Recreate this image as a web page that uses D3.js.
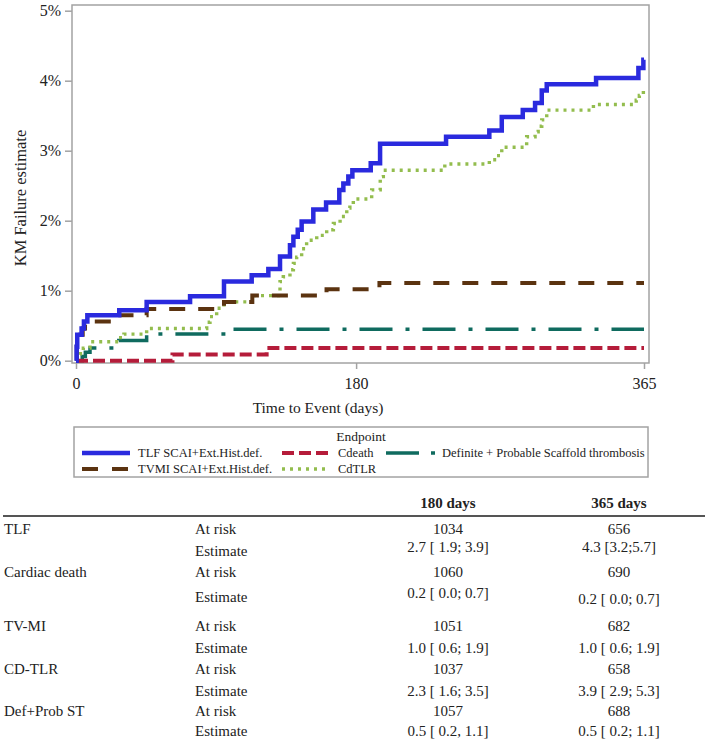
<!DOCTYPE html>
<html>
<head>
<meta charset="utf-8">
<script src="https://cdn.jsdelivr.net/npm/d3@7"></script>
<style>
  body { margin: 0; background: #fff; }
  svg { display: block; font-family: "Liberation Serif", "Times New Roman", serif; }
</style>
</head>
<body>
<div id="km-chart"></div>
<script>
// ---------------------------------------------------------------- Data
var seriesNames = ['TLF SCAI+Ext.Hist.def.', 'TVMI SCAI+Ext.Hist.def.', 'Cdeath', 'CdTLR',
                   'Definite + Probable Scaffold thrombosis'];

// [day, KM failure %]
var tlf = [[0,0],[0.4,0.2],[0.8,0.37],[3.6,0.46],[5.1,0.56],[7.3,0.65],[27.8,0.72],[45.4,0.84],
  [73.3,0.92],[95.1,1.13],[112.9,1.22],[123.6,1.31],[131.1,1.49],[137.5,1.65],[139.7,1.77],
  [142.5,1.87],[145,1.99],[152.5,2.16],[160.7,2.26],[169.2,2.44],[171.8,2.53],[175,2.63],
  [177.6,2.72],[189.4,2.82],[195.4,3.1],[237.8,3.2],[265.6,3.29],[273.6,3.48],[287.1,3.58],
  [295,3.68],[299.3,3.86],[302.5,3.95],[334.2,4.04],[361.4,4.18],[364.6,4.3],[365,4.3]];
var tvmi = [[0,0],[0.5,0.2],[2.6,0.37],[4.3,0.46],[5.8,0.56],[27.2,0.65],[45.4,0.74],[95.1,0.84],
  [113.3,0.93],[161,1.02],[195,1.11],[365,1.11]];
var cdeath = [[0,0],[62,0.09],[122.5,0.18],[365,0.18]];
var cdtlr = [[0,0.03],[2.6,0.1],[4.7,0.18],[9,0.27],[27.2,0.33],[30.8,0.38],[45.4,0.46],[84,0.55],
  [86.1,0.63],[90.4,0.75],[95.1,0.84],[113.3,0.93],[131.1,1.13],[133.2,1.2],[137.5,1.3],
  [139.7,1.39],[141.8,1.48],[145,1.6],[148.2,1.72],[154.7,1.79],[161.1,1.87],[165.4,1.96],
  [169.7,2.06],[174,2.18],[176,2.22],[178.2,2.31],[190,2.44],[195.5,2.63],[197.5,2.72],
  [237,2.81],[265.6,2.87],[270.3,2.93],[273.6,3.05],[289.6,3.2],[295,3.27],[297,3.35],
  [299.3,3.44],[302.5,3.58],[332.5,3.66],[360,3.72],[362,3.79],[364.6,3.89],[365,3.89]];
var scaffoldSt = [[0,0],[4,0.06],[6,0.12],[9,0.18],[27.5,0.29],[45.4,0.38],[99.5,0.45],[365,0.45]];

var xTicks = [0, 180, 365];
var yTicks = [0, 1, 2, 3, 4, 5];

var tableHeaders = ['180 days', '365 days'];
var endpoints    = ['TLF', 'Cardiac death', 'TV-MI', 'CD-TLR', 'Def+Prob ST'];
var atRisk180    = [1034, 1060, 1051, 1037, 1057];
var atRisk365    = [656, 690, 682, 658, 688];
var estimate180  = ['2.7 [ 1.9; 3.9]', '0.2 [ 0.0; 0.7]', '1.0 [ 0.6; 1.9]', '2.3 [ 1.6; 3.5]', '0.5 [ 0.2, 1.1]'];
var estimate365  = ['4.3 [3.2;5.7]', '0.2 [ 0.0; 0.7]', '1.0 [ 0.6; 1.9]', '3.9 [ 2.9; 5.3]', '0.5 [ 0.2; 1.1]'];
// --------------------------------------------------------------- /Data

var styles = [
  {color: '#2a2ade', width: 4.5, dash: null},
  {color: '#5b3310', width: 4,   dash: '16,13'},
  {color: '#b51c3a', width: 4,   dash: '12,5'},
  {color: '#93bd4e', width: 3.4, dash: '3,5'},
  {color: '#0f6b5f', width: 3.5, dash: '33,13,4,13'}
];
var curves = [tlf, tvmi, cdeath, cdtlr, scaffoldSt];

var frame = {left: 72, top: 5, right: 649, bottom: 363};

var svg = d3.select('#km-chart').append('svg')
    .attr('width', 709)
    .attr('height', 741);

var x = d3.scaleLinear().domain([0, 365]).range([76, 644]);
var y = d3.scaleLinear().domain([0, 5]).range([360.7, 10.7]);

svg.append('rect')
    .attr('x', frame.left)
    .attr('y', frame.top)
    .attr('width', frame.right - frame.left)
    .attr('height', frame.bottom - frame.top)
    .attr('fill', 'none')
    .attr('stroke', '#a3a3a3')
    .attr('stroke-width', 1.5);

var yAxis = svg.append('g')
    .attr('transform', 'translate(' + frame.left + ',0)')
    .call(d3.axisLeft(y).tickValues(yTicks).tickSize(7).tickPadding(4)
      .tickFormat(function(d) { return d + '%'; }));

var xAxis = svg.append('g')
    .attr('transform', 'translate(0,' + frame.bottom + ')')
    .call(d3.axisBottom(x).tickValues(xTicks).tickSize(6).tickPadding(9)
      .tickFormat(d3.format('d')));

[yAxis, xAxis].forEach(function(ax) {
  ax.select('.domain').remove();
  ax.selectAll('line').attr('stroke', '#a3a3a3').attr('stroke-width', 1.5);
  ax.selectAll('text')
      .attr('font-family', '"Liberation Serif", serif')
      .attr('font-size', 16)
      .attr('fill', '#222');
});

svg.append('text')
    .attr('transform', 'translate(26,198) rotate(-90)')
    .attr('text-anchor', 'middle')
    .attr('font-size', 16.5)
    .attr('fill', '#222')
    .text('KM Failure estimate');

svg.append('text')
    .attr('x', 318)
    .attr('y', 413)
    .attr('text-anchor', 'middle')
    .attr('font-size', 15.5)
    .attr('fill', '#222')
    .text('Time to Event (days)');

var line = d3.line()
    .x(function(d) { return x(d[0]); })
    .y(function(d) { return y(d[1]); })
    .curve(d3.curveStepAfter);

var drawOrder = [4, 2, 3, 1, 0];
drawOrder.forEach(function(i) {
  svg.append('path')
      .datum(curves[i])
      .attr('d', line)
      .attr('fill', 'none')
      .attr('stroke', styles[i].color)
      .attr('stroke-width', styles[i].width)
      .attr('stroke-dasharray', styles[i].dash);
});

// ---------------------------------------------------------- Legend
var legend = svg.append('g').attr('font-size', 12.5).attr('fill', '#222');

legend.append('rect')
    .attr('x', 74).attr('y', 427)
    .attr('width', 574).attr('height', 50)
    .attr('fill', 'none')
    .attr('stroke', '#a3a3a3')
    .attr('stroke-width', 1.5);

legend.append('text')
    .attr('x', 361).attr('y', 441)
    .attr('text-anchor', 'middle')
    .attr('font-size', 13.5)
    .text('Endpoint');

var legendItems = [
  {i: 0, x0: 82,  x1: 130, tx: 138, ty: 453},
  {i: 1, x0: 82,  x1: 130, tx: 138, ty: 469},
  {i: 2, x0: 282, x1: 330, tx: 338, ty: 453},
  {i: 3, x0: 282, x1: 330, tx: 338, ty: 469},
  {i: 4, x0: 386, x1: 436, tx: 442, ty: 453}
];

legendItems.forEach(function(d) {
  var st = styles[d.i];
  legend.append('line')
      .attr('x1', d.x0).attr('x2', d.x1)
      .attr('y1', d.ty).attr('y2', d.ty)
      .attr('stroke', st.color)
      .attr('stroke-width', st.width)
      .attr('stroke-dasharray', d.i == 1 ? '16,14' : d.i == 4 ? '33,12,4,20' : st.dash);
  legend.append('text')
      .attr('x', d.tx).attr('y', d.ty)
      .attr('dy', '0.35em')
      .text(seriesNames[d.i]);
});

// ----------------------------------------------------------- Table
var table = svg.append('g').attr('font-size', 15).attr('fill', '#222');
var colX = [448, 619];

table.selectAll('.hdr')
    .data(tableHeaders)
  .enter().append('text')
    .attr('class', 'hdr')
    .attr('x', function(d, i) { return colX[i]; })
    .attr('y', 503)
    .attr('dy', '0.35em')
    .attr('text-anchor', 'middle')
    .attr('font-weight', 'bold')
    .text(function(d) { return d; });

table.append('line')
    .attr('x1', 3).attr('x2', 705)
    .attr('y1', 516).attr('y2', 516)
    .attr('stroke', '#555')
    .attr('stroke-width', 2);

var riskY = [529, 572, 626, 669, 711];
var estY  = [551, 597, 648, 691, 731];
var estYShift = [[-4, -4], [-4, 2], [0, 0], [0, 0], [0, 0]];

endpoints.forEach(function(name, r) {
  var rows = [
    {x: 4,       y: riskY[r], t: name, anchor: 'start'},
    {x: 195,     y: riskY[r], t: 'At risk', anchor: 'start'},
    {x: colX[0], y: riskY[r], t: atRisk180[r], anchor: 'middle'},
    {x: colX[1], y: riskY[r], t: atRisk365[r], anchor: 'middle'},
    {x: 195,     y: estY[r], t: 'Estimate', anchor: 'start'},
    {x: colX[0], y: estY[r] + estYShift[r][0], t: estimate180[r], anchor: 'middle'},
    {x: colX[1], y: estY[r] + estYShift[r][1], t: estimate365[r], anchor: 'middle'}
  ];
  rows.forEach(function(c) {
    table.append('text')
        .attr('x', c.x)
        .attr('y', c.y)
        .attr('dy', '0.35em')
        .attr('text-anchor', c.anchor)
        .text(c.t);
  });
});
</script>
</body>
</html>
